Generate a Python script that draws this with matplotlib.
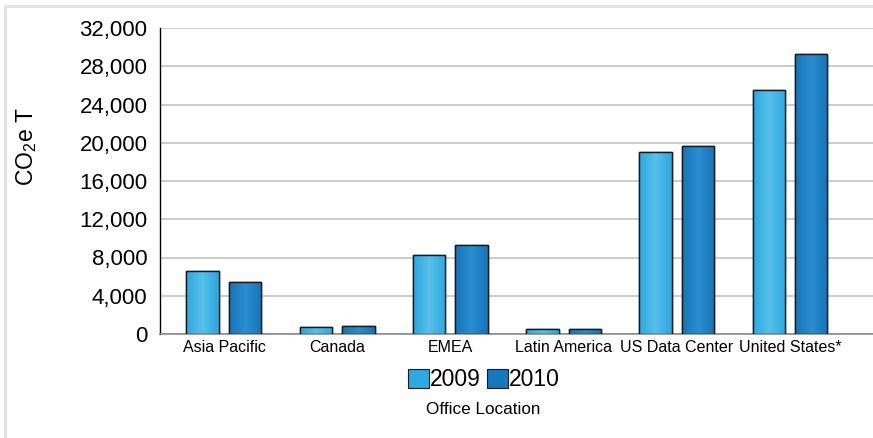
import numpy as np
import matplotlib
matplotlib.use("Agg")
import matplotlib.pyplot as plt
from matplotlib.lines import Line2D
from matplotlib.patches import Patch
from matplotlib.colors import LinearSegmentedColormap

categories = ["Asia Pacific", "Canada", "EMEA", "Latin America", "US Data Center", "United States*"]
values_2009 = [6600, 720, 8230, 500, 19060, 25500]
values_2010 = [5400, 790, 9270, 500, 19660, 29300]
series_labels = ["2009", "2010"]
yticks = [0, 4000, 8000, 12000, 16000, 20000, 24000, 28000, 32000]

plt.rcParams['font.family'] = ['Liberation Sans', 'DejaVu Sans']
plt.rcParams['mathtext.default'] = 'regular'

W, H = 873, 438
fig = plt.figure(figsize=(W / 100, H / 100), dpi=100)
ax = fig.add_axes([160 / W, 1 - 334 / H, 1 - 160 / W, (334 - 28) / H])

x = np.arange(len(categories))
bw = 0.287
off = 0.1875
c09, c10 = "#2ba9e1", "#1679bd"
b1 = ax.bar(x - off, values_2009, bw, color=c09, edgecolor="#1a1a1a", linewidth=1.0, zorder=3)
b2 = ax.bar(x + off, values_2010, bw, color=c10, edgecolor="#1a1a1a", linewidth=1.0, zorder=3)

cm09 = LinearSegmentedColormap.from_list("g09", ["#2aa8e0", "#58c0ea", "#2aa8e0"])
cm10 = LinearSegmentedColormap.from_list("g10", ["#1574b8", "#2a8ed0", "#1574b8"])
grad = np.linspace(0, 1, 64).reshape(1, -1)
for bars, cm in ((b1, cm09), (b2, cm10)):
    for r in bars:
        x0, y0 = r.get_x(), r.get_y()
        w, h = r.get_width(), r.get_height()
        im = ax.imshow(grad, cmap=cm, aspect="auto", extent=[x0, x0 + w, y0, y0 + h],
                       zorder=3.5, interpolation="bilinear")
        im.set_clip_path(r)
        r2 = plt.Rectangle((x0, y0), w, h, fill=False, edgecolor="#1a1a1a", linewidth=1.0, zorder=4)
        ax.add_patch(r2)

ax.set_xlim(-0.565, 5.733)
ax.set_ylim(0, 32000)
ax.set_yticks(yticks)
ax.set_yticklabels([f"{v:,}" for v in yticks], fontsize=16)
ax.set_xticks(x)
ax.set_xticklabels(categories, fontsize=11.5)
ax.tick_params(axis="y", length=0, pad=9)
ax.tick_params(axis="x", length=0, pad=4)
ax.yaxis.grid(True, color="#c4c4c4", linewidth=1.2, zorder=0)
ax.set_axisbelow(True)
for s in ("top", "right"):
    ax.spines[s].set_visible(False)
ax.spines["left"].set_color("#000000")
ax.spines["left"].set_linewidth(1.0)
ax.spines["bottom"].set_color("#8a8a8a")
ax.spines["bottom"].set_linewidth(1.2)

fig.text(26.5 / W, 1 - 147 / H, "CO$_{2}$e T", rotation=90, fontsize=16.5,
         ha="center", va="center")

handles = [Patch(facecolor=c09, edgecolor="#1a1a1a", linewidth=0.8),
           Patch(facecolor=c10, edgecolor="#1a1a1a", linewidth=0.8)]
fig.legend(handles, series_labels, loc="center", bbox_to_anchor=(484 / W, 1 - 380 / H),
           ncol=2, frameon=False, fontsize=16.5, handlelength=0.9, handleheight=0.9,
           handletextpad=0.05, columnspacing=0.3, borderpad=0)
fig.text(483 / W, 1 - 409 / H, "Office Location", fontsize=12.3, ha="center", va="center")

fig.add_artist(Line2D([5 / W, 1], [1 - 6 / H, 1 - 6 / H], color="#e2e2e2", linewidth=2.2,
                      transform=fig.transFigure))
fig.add_artist(Line2D([5 / W, 5 / W], [0, 1 - 6 / H], color="#e2e2e2", linewidth=2.2,
                      transform=fig.transFigure))

fig.savefig("out.png", dpi=100, facecolor="white")
